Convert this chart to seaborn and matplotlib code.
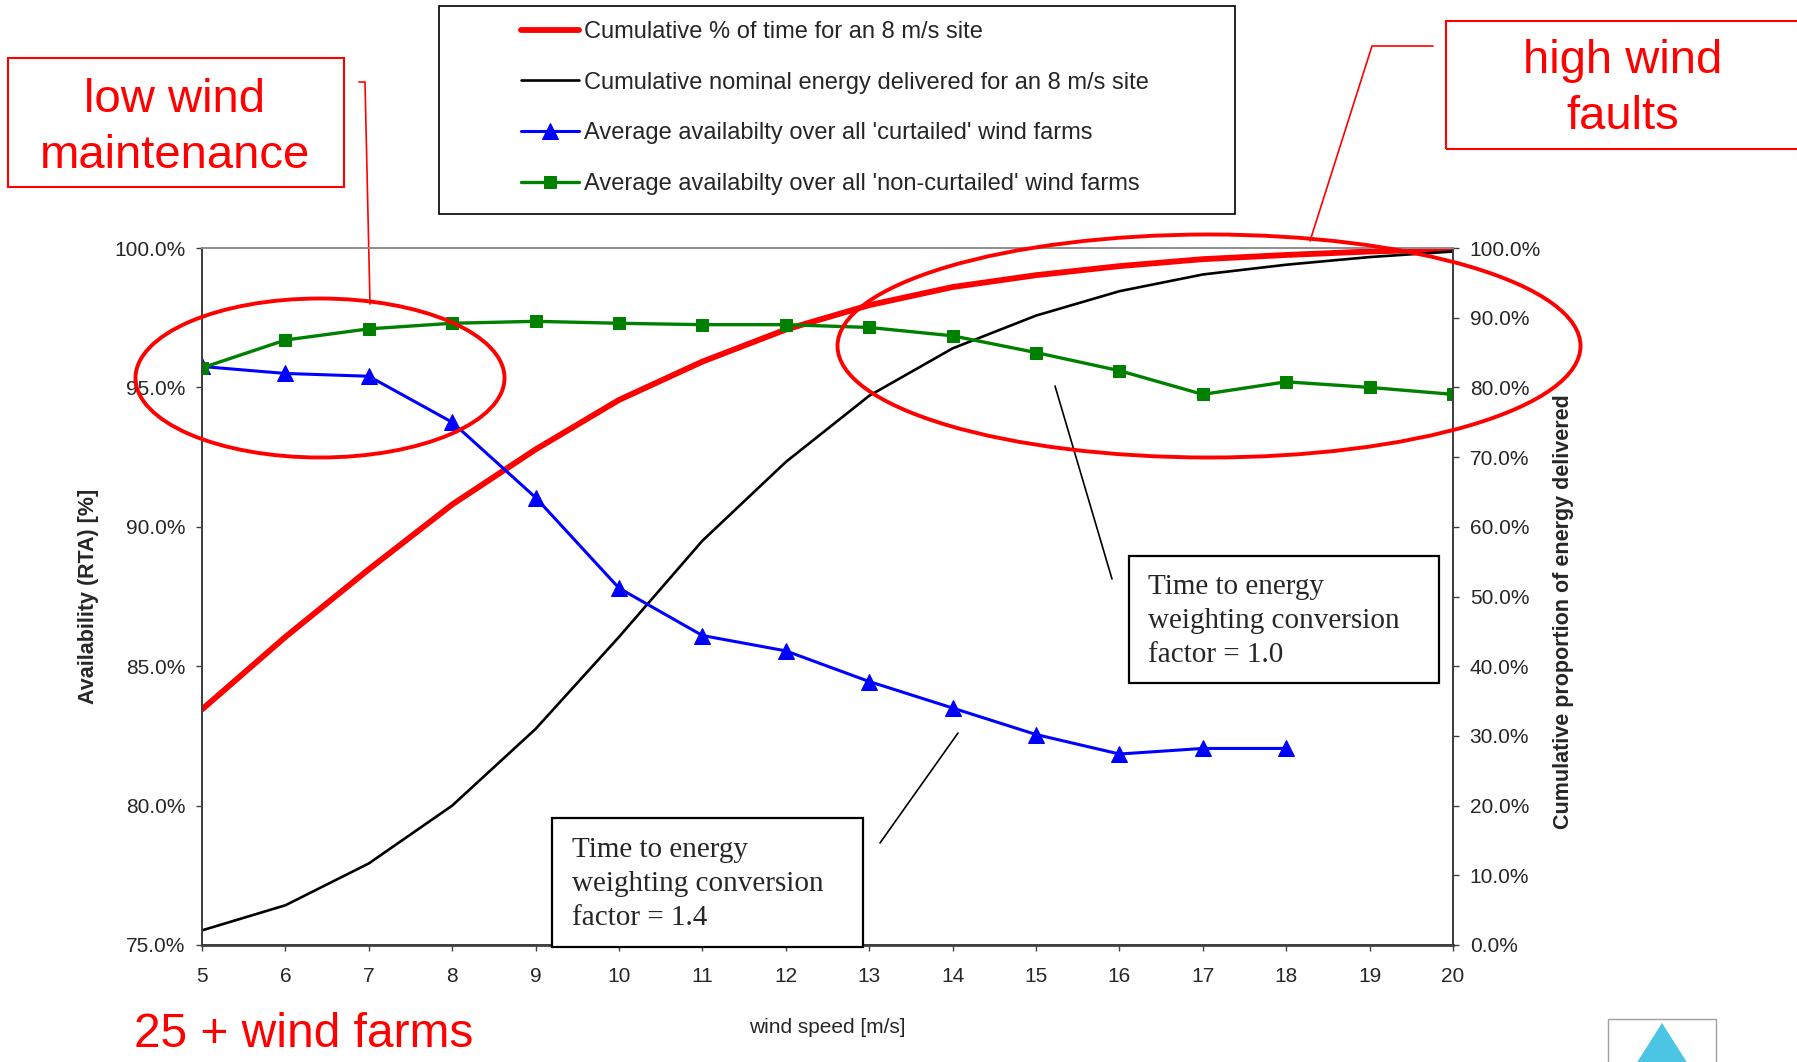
import numpy as np
import pandas as pd
import matplotlib
matplotlib.use("Agg")
import matplotlib.pyplot as plt
import seaborn as sns
from matplotlib.patches import Rectangle, Ellipse, Polygon
from matplotlib.lines import Line2D
from matplotlib.ticker import FuncFormatter

# data
wind_speed = [5, 6, 7, 8, 9, 10, 11, 12, 13, 14, 15, 16, 17, 18, 19, 20]
cum_time = [33.8, 44.2, 53.9, 63.2, 71.1, 78.2, 83.7, 88.3, 91.8, 94.4,
            96.1, 97.4, 98.4, 99.0, 99.5, 99.8]
cum_energy = [2.1, 5.7, 11.7, 20.0, 31.0, 44.2, 58.0, 69.3, 78.8, 85.6,
              90.3, 93.8, 96.2, 97.6, 98.7, 99.5]
avail_curtailed = [95.75, 95.5, 95.4, 93.75, 91.05, 87.8, 86.1, 85.55, 84.45,
                   83.5, 82.55, 81.85, 82.05, 82.05]
avail_noncurtailed = [95.7, 96.7, 97.1, 97.3, 97.37, 97.3, 97.25, 97.25, 97.15,
                      96.85, 96.25, 95.6, 94.75, 95.2, 95.0, 94.75]

labels = ["Cumulative % of time for an 8 m/s site",
          "Cumulative nominal energy delivered for an 8 m/s site",
          "Average availabilty over all 'curtailed' wind farms",
          "Average availabilty over all 'non-curtailed' wind farms"]

W, H = 1797, 1062


def fx(px):
    return px / W


def fy(py):
    return 1 - py / H


sns.set_style("white")
plt.rcParams['font.family'] = ['Liberation Sans', 'DejaVu Sans']

fig = plt.figure(figsize=(W / 100, H / 100), dpi=100)
ax = fig.add_axes([fx(202), fy(945), fx(1453) - fx(202), fy(248) - fy(945)])
ax2 = ax.twinx()

# right axis series (drawn underneath)
sns.lineplot(x=wind_speed, y=cum_time, ax=ax2, color='#ff0000', lw=4.2, label=labels[0])
sns.lineplot(x=wind_speed, y=cum_energy, ax=ax2, color='black', lw=1.9, label=labels[1])

# left axis series
sns.lineplot(x=wind_speed[:len(avail_curtailed)], y=avail_curtailed, ax=ax, color='#0000ff',
             lw=2.2, marker='^', markersize=11, markeredgecolor='#0000ff', label=labels[2])
sns.lineplot(x=wind_speed, y=avail_noncurtailed, ax=ax, color='#008000', lw=2.4,
             marker='s', markersize=8, markeredgecolor='#008000', label=labels[3])

h1, l1 = ax2.get_legend_handles_labels()
h2, l2 = ax.get_legend_handles_labels()
ax.get_legend().remove()
ax2.get_legend().remove()

ax.set_zorder(2)
ax2.set_zorder(1)
ax.patch.set_visible(False)
ax2.patch.set_visible(False)

ax.set_xlim(5, 20)
ax.set_xticks(wind_speed)
ax.set_ylim(75, 100)
ax.set_yticks(np.arange(75, 100.1, 5))
ax2.set_ylim(0, 100)
ax2.set_yticks(np.arange(0, 100.1, 10))
pct = FuncFormatter(lambda v, p: f"{v:.1f}%")
ax.yaxis.set_major_formatter(pct)
ax2.yaxis.set_major_formatter(pct)

# grid on the lower axes so that it sits under the lines
ax2.set_yticks(np.arange(0, 100.1, 20), minor=True)
ax2.grid(False)
ax2.grid(True, which='minor', axis='y', color='#c8c8c8', lw=1)
ax2.grid(True, which='major', axis='x', color='#c8c8c8', lw=1)
ax2.tick_params(axis='y', which='minor', length=0)

for a in (ax, ax2):
    for s in a.spines.values():
        s.set_color('#404040')
        s.set_linewidth(1.3)
    a.spines['top'].set_color('#909090')
ax.spines['bottom'].set_linewidth(2)
ax.tick_params(axis='both', which='major', direction='out', length=4, width=1,
               color='#404040', labelsize=15, pad=8, left=True, bottom=True)
ax.tick_params(axis='x', pad=12)
ax2.tick_params(axis='y', which='major', direction='out', length=4, width=1,
                color='#404040', labelsize=15, pad=8, right=True)

ax.set_xlabel("wind speed [m/s]", fontsize=15)
ax.xaxis.set_label_coords(0.5, -0.118)
ax.xaxis.label.set_va('center')
ax.set_ylabel("Availability (RTA) [%]", fontsize=15.5, fontweight='bold')
ax.yaxis.set_label_coords(-0.091, 0.5)
ax.yaxis.label.set_va('center')
ax2.set_ylabel("Cumulative proportion of energy delivered", fontsize=15.5, fontweight='bold')
ax2.yaxis.set_label_coords(1.0887, 0.479)
ax2.yaxis.label.set_va('center')

# legend in its own frame
fig.add_artist(Rectangle((fx(439), fy(214)), fx(1235) - fx(439), fy(6) - fy(214),
                         transform=fig.transFigure, fill=False, edgecolor='black', lw=1.2))
fig.legend(h1 + h2, l1 + l2, loc='center left', bbox_to_anchor=(fx(521), fy(108)),
           frameon=False, fontsize=17, handlelength=2.45, handletextpad=0.22,
           labelspacing=1.22, borderpad=0, borderaxespad=0)

red = '#ff0000'
# red call-out boxes
fig.add_artist(Rectangle((fx(8), fy(187)), fx(344) - fx(8), fy(58) - fy(187),
                         transform=fig.transFigure, fill=False, edgecolor=red, lw=1.5))
fig.text(fx(175), fy(128), "low wind\nmaintenance", color=red, fontsize=34,
         ha='center', va='center', linespacing=1.35)
fig.add_artist(Line2D([fx(359), fx(365), fx(370)], [fy(82), fy(82), fy(304)],
                      transform=fig.transFigure, color=red, lw=1.2))

fig.add_artist(Rectangle((fx(1446), fy(149)), fx(1805) - fx(1446), fy(21) - fy(149),
                         transform=fig.transFigure, fill=False, edgecolor=red, lw=1.5))
fig.text(fx(1623), fy(89), "high wind\nfaults", color=red, fontsize=34,
         ha='center', va='center', linespacing=1.35)
fig.add_artist(Line2D([fx(1433), fx(1372), fx(1310)], [fy(46), fy(46), fy(241)],
                      transform=fig.transFigure, color=red, lw=1.2))

fig.add_artist(Ellipse((fx(320), fy(378)), fx(369), 159 / H, transform=fig.transFigure,
                       fill=False, edgecolor=red, lw=2.8, zorder=5))
fig.add_artist(Ellipse((fx(1209), fy(346)), fx(743), 223 / H, transform=fig.transFigure,
                       fill=False, edgecolor=red, lw=2.8, zorder=5))

fig.text(fx(134), fy(1047), "25 + wind farms", color=red, fontsize=34.5, ha='left',
         va='baseline')

# conversion factor boxes
serif = ['Liberation Serif', 'DejaVu Serif']
fig.add_artist(Rectangle((fx(1129), fy(683)), fx(1439) - fx(1129), fy(556) - fy(683),
                         transform=fig.transFigure, facecolor='white', edgecolor='black',
                         lw=1.6, zorder=6))
fig.text(fx(1148), fy(621), "Time to energy\nweighting conversion\nfactor = 1.0",
         family=serif, fontsize=21, ha='left', va='center', linespacing=1.38, zorder=7)
fig.add_artist(Line2D([fx(1055), fx(1112)], [fy(386), fy(579)],
                      transform=fig.transFigure, color='black', lw=1.2))

fig.add_artist(Rectangle((fx(552), fy(947)), fx(863) - fx(552), fy(818) - fy(947),
                         transform=fig.transFigure, facecolor='white', edgecolor='black',
                         lw=1.6, zorder=6))
fig.text(fx(572), fy(884), "Time to energy\nweighting conversion\nfactor = 1.4",
         family=serif, fontsize=21, ha='left', va='center', linespacing=1.38, zorder=7)
fig.add_artist(Line2D([fx(958), fx(880)], [fy(733), fy(843)],
                      transform=fig.transFigure, color='black', lw=1.2))

# corner logo
fig.add_artist(Rectangle((fx(1608), fy(1070)), fx(1716) - fx(1608), fy(1019) - fy(1070),
                         transform=fig.transFigure, fill=False, edgecolor='#a0a0a0', lw=1))
fig.add_artist(Polygon([(fx(1662), fy(1023)), (fx(1636), fy(1064)), (fx(1688), fy(1064))],
                       closed=True, transform=fig.transFigure, facecolor='#4cc4e4',
                       edgecolor='none'))

fig.savefig("out.png", dpi=100)
